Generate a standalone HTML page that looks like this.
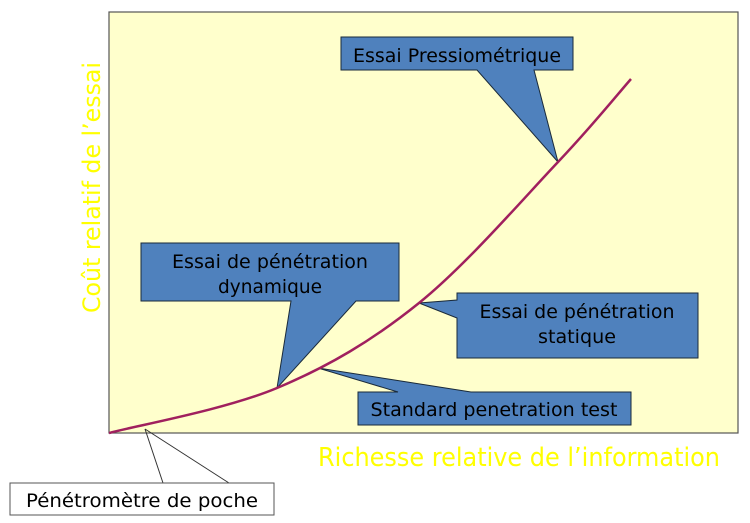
<!DOCTYPE html>
<html><head><meta charset="utf-8"><style>
html,body{margin:0;padding:0;background:#fff;}
svg{display:block;}
text{font-family:"DejaVu Sans","Liberation Sans",sans-serif;}
</style></head><body>
<svg width="750" height="523" viewBox="0 0 750 523" xmlns="http://www.w3.org/2000/svg">
<rect x="109" y="12" width="629" height="421" fill="#ffffcc" stroke="#555" stroke-width="1.2"/>
<text x="0" y="0" transform="translate(100,313) rotate(-90)" font-size="24" fill="#ffff00" textLength="251" lengthAdjust="spacingAndGlyphs">Coût relatif de l’essai</text>
<text x="318" y="466" font-size="26" fill="#ffff00" textLength="402" lengthAdjust="spacingAndGlyphs">Richesse relative de l’information</text>

<!-- Pressiometrique -->
<polygon points="341,37 573,37 573,70 534,70 558,162 477,70 341,70" fill="#4f81bd" stroke="#1a2a3a" stroke-width="1"/>
<text x="457" y="62" font-size="19" text-anchor="middle" fill="#000" textLength="208" lengthAdjust="spacingAndGlyphs">Essai Pressiométrique</text>

<!-- dynamique -->
<polygon points="141,243 399,243 399,301 356,301 277,388 291,301 141,301" fill="#4f81bd" stroke="#1a2a3a" stroke-width="1"/>
<text x="270" y="268" font-size="19" text-anchor="middle" fill="#000" textLength="196" lengthAdjust="spacingAndGlyphs">Essai de pénétration</text>
<text x="270" y="293" font-size="19" text-anchor="middle" fill="#000" textLength="104" lengthAdjust="spacingAndGlyphs">dynamique</text>

<!-- statique -->
<polygon points="457,293 698,293 698,358 457,358 457,318 419,303 457,300" fill="#4f81bd" stroke="#1a2a3a" stroke-width="1"/>
<text x="577" y="318" font-size="19" text-anchor="middle" fill="#000" textLength="195" lengthAdjust="spacingAndGlyphs">Essai de pénétration</text>
<text x="577" y="343" font-size="19" text-anchor="middle" fill="#000" textLength="78" lengthAdjust="spacingAndGlyphs">statique</text>

<!-- standard -->
<polygon points="358,392 398,392 318,368 471,392 631,392 631,425 358,425" fill="#4f81bd" stroke="#1a2a3a" stroke-width="1"/>
<text x="494" y="416" font-size="19" text-anchor="middle" fill="#000" textLength="247" lengthAdjust="spacingAndGlyphs">Standard penetration test</text>

<!-- curve -->
<path d="M109,433 C137,425.5 225.3,409.7 277,388 C328.7,366.3 372.2,340.7 419,303 C465.8,265.3 522.7,199.3 558,162 C593.3,124.7 618.8,92.8 631,79" fill="none" stroke="#a0205e" stroke-width="2.5"/>

<!-- poche -->
<line x1="145" y1="429" x2="163" y2="483" stroke="#333" stroke-width="1"/>
<line x1="145" y1="429" x2="229" y2="483" stroke="#333" stroke-width="1"/>
<rect x="10" y="483" width="264" height="32" fill="#fff" stroke="#555" stroke-width="1"/>
<text x="142" y="507" font-size="19" text-anchor="middle" fill="#000" textLength="232" lengthAdjust="spacingAndGlyphs">Pénétromètre de poche</text>
</svg>
</body></html>
